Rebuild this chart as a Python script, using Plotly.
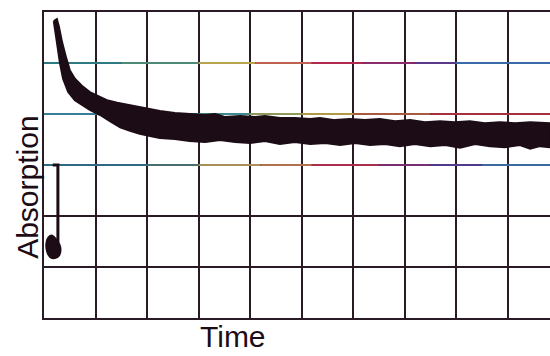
import plotly.graph_objects as go

# Trace band (time in grid divisions, absorption in grid divisions)
upper_t = [0.19, 0.25, 0.29, 0.35, 0.43, 0.50, 0.60, 0.74, 0.89, 1.05, 1.22, 1.42, 1.61, 1.81, 2.00,
           2.25, 2.54, 2.83, 3.13, 3.32, 3.51, 3.81, 4.10, 4.29, 4.58, 4.87, 5.17, 5.36, 5.65, 5.94,
           6.23, 6.52, 6.82, 7.11, 7.40, 7.69, 7.98, 8.27, 8.56, 8.85, 9.15, 9.44, 9.83]
upper_a = [5.82, 5.86, 5.71, 5.41, 5.10, 4.86, 4.69, 4.55, 4.43, 4.35, 4.27, 4.22, 4.18, 4.14, 4.10,
           4.06, 4.02, 4.00, 3.98, 4.00, 3.94, 3.96, 3.94, 3.96, 3.92, 3.92, 3.90, 3.92, 3.88, 3.90,
           3.88, 3.90, 3.86, 3.88, 3.84, 3.86, 3.84, 3.86, 3.82, 3.84, 3.82, 3.84, 3.82]
lower_t = [9.83, 9.63, 9.44, 9.24, 8.95, 8.66, 8.37, 8.08, 7.79, 7.50, 7.20, 6.91, 6.62, 6.33, 6.04,
           5.75, 5.46, 5.17, 4.87, 4.58, 4.29, 4.00, 3.71, 3.42, 3.13, 2.83, 2.54, 2.25, 2.06, 1.86,
           1.67, 1.48, 1.28, 1.09, 0.89, 0.74, 0.60, 0.47, 0.37, 0.31, 0.25, 0.19]
lower_a = [3.35, 3.37, 3.32, 3.39, 3.35, 3.37, 3.41, 3.34, 3.39, 3.37, 3.41, 3.37, 3.41, 3.39, 3.43,
           3.39, 3.43, 3.41, 3.45, 3.41, 3.47, 3.43, 3.45, 3.49, 3.45, 3.47, 3.51, 3.53, 3.57, 3.61,
           3.67, 3.74, 3.86, 3.98, 4.08, 4.18, 4.27, 4.43, 4.69, 5.00, 5.41, 5.76]

# Initial baseline step
step_t = [0.17, 0.27, 0.27]
step_a = [3.00, 3.00, 1.43]
blob_t = [0.08, 0.16, 0.25, 0.32, 0.30, 0.21, 0.12, 0.06, 0.04, 0.08]
blob_a = [1.58, 1.62, 1.53, 1.39, 1.23, 1.17, 1.19, 1.29, 1.45, 1.58]

# Coloured reference lines: level, segment boundaries, colours
ref_levels = [5, 4, 3]
ref_breaks = [[0, 1.5, 3.0, 4.1, 5.2, 6.2, 7.2, 8.0, 9.83],
              [0, 2.0, 4.0, 5.0, 6.0, 7.5, 9.83],
              [0, 2.0, 3.0, 4.2, 5.2, 6.5, 7.5, 8.5, 9.83]]
ref_colors = [["#2f7a80", "#4f8a78", "#b8a44c", "#c06050", "#b02a52", "#8a2c6a", "#5a3a88", "#3a6aa8"],
              ["#3a7f96", "#3f8a90", "#8f9a58", "#b09a48", "#a85a3e", "#a8303e"],
              ["#2f6a82", "#4a6e70", "#a89058", "#b07050", "#a8304e", "#7a2e70", "#503a8a", "#3a6aa0"]]

INK = "#1c0c16"
GRID = "#2a1a26"

fig = go.Figure()

for lvl, brk, cols in zip(ref_levels, ref_breaks, ref_colors):
    for i, c in enumerate(cols):
        fig.add_trace(go.Scatter(x=[brk[i], brk[i + 1]], y=[lvl, lvl], mode="lines",
                                 line=dict(color=c, width=2), hoverinfo="skip", showlegend=False))

fig.add_trace(go.Scatter(x=upper_t + lower_t + upper_t[:1], y=upper_a + lower_a + upper_a[:1],
                         mode="lines", fill="toself", fillcolor=INK,
                         line=dict(color=INK, width=2), hoverinfo="skip", showlegend=False))
fig.add_trace(go.Scatter(x=step_t, y=step_a, mode="lines",
                         line=dict(color=INK, width=3), hoverinfo="skip", showlegend=False))
fig.add_trace(go.Scatter(x=blob_t, y=blob_a, mode="lines", fill="toself", fillcolor=INK,
                         line=dict(color=INK, width=1.5, shape="spline"), hoverinfo="skip", showlegend=False))

fig.update_layout(
    width=550, height=356,
    margin=dict(l=44, r=0, t=12, b=38),
    paper_bgcolor="white", plot_bgcolor="white",
    xaxis=dict(range=[0, 9.825], dtick=1, tick0=0, showgrid=True, gridcolor=GRID, gridwidth=2,
               showline=True, linecolor=GRID, linewidth=2, mirror=True,
               showticklabels=False, ticks="", zeroline=False, fixedrange=True),
    yaxis=dict(range=[0, 6], dtick=1, tick0=0, showgrid=True, gridcolor=GRID, gridwidth=2,
               showline=True, linecolor=GRID, linewidth=2, mirror=False,
               showticklabels=False, ticks="", zeroline=False, fixedrange=True),
    annotations=[
        dict(text="Absorption", xref="paper", yref="paper", x=-0.034, y=0.428,
             xanchor="center", yanchor="middle", textangle=-90, showarrow=False,
             font=dict(family="Liberation Sans", size=30, color=INK)),
        dict(text="Time", xref="paper", yref="paper", x=0.3735, y=-0.062,
             xanchor="center", yanchor="middle", showarrow=False,
             font=dict(family="Liberation Sans Narrow, Liberation Sans", size=30, color=INK)),
    ],
)

fig.write_html("out.html")
